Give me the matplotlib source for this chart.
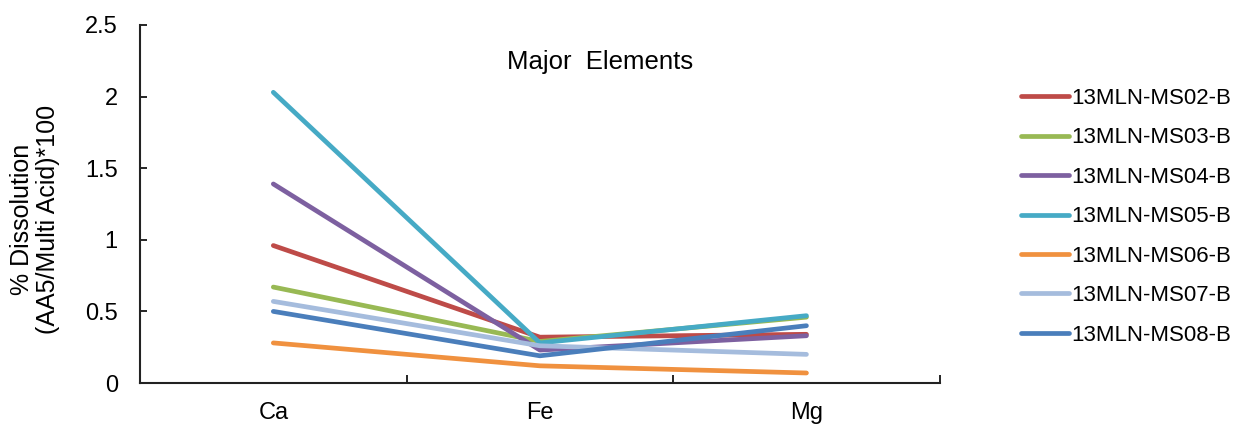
import matplotlib
matplotlib.use("Agg")
import matplotlib.pyplot as plt

plt.rcParams['font.family'] = ['Liberation Sans', 'DejaVu Sans']

elements = ['Ca', 'Fe', 'Mg']
samples = ['13MLN-MS02-B', '13MLN-MS03-B', '13MLN-MS04-B', '13MLN-MS05-B',
           '13MLN-MS06-B', '13MLN-MS07-B', '13MLN-MS08-B']

ms02 = [0.96, 0.32, 0.34]
ms03 = [0.67, 0.29, 0.46]
ms04 = [1.39, 0.23, 0.33]
ms05 = [2.03, 0.28, 0.47]
ms06 = [0.28, 0.12, 0.07]
ms07 = [0.57, 0.26, 0.20]
ms08 = [0.50, 0.19, 0.40]

series = [ms02, ms03, ms04, ms05, ms06, ms07, ms08]
colors = ['#BE4B48', '#98B954', '#7D60A0', '#46AAC5', '#F0913F', '#A5BCDD', '#4A7EBB']

fig = plt.figure(figsize=(12.36, 4.25), dpi=100)
ax = fig.add_axes([0.1133, 0.0988, 0.647, 0.8424])

x = list(range(len(elements)))
for name, vals, c in zip(samples, series, colors):
    ax.plot(x, vals, color=c, lw=3.4, solid_capstyle='round', label=name)

ax.set_xlim(-0.5, 2.5)
ax.set_ylim(0, 2.5)
ax.set_yticks([0, 0.5, 1, 1.5, 2, 2.5])
ax.set_yticklabels(['0', '0.5', '1', '1.5', '2', '2.5'])
# category boundaries get the tick marks, names sit between them
ax.set_xticks([-0.5, 0.5, 1.5, 2.5])
ax.set_xticklabels([])
ax.set_xticks(x, minor=True)
ax.set_xticklabels(elements, minor=True)
ax.tick_params(axis='x', which='minor', length=0, labelsize=17, pad=14)
ax.tick_params(axis='x', which='major', direction='in', length=6, width=1.2)
ax.tick_params(axis='y', direction='in', length=5, width=1.2, labelsize=17, pad=16)

for s in ['top', 'right']:
    ax.spines[s].set_visible(False)
for s in ['left', 'bottom']:
    ax.spines[s].set_linewidth(1.5)
    ax.spines[s].set_color('#222222')

ax.set_ylabel('% Dissolution\n(AA5/Multi Acid)*100', fontsize=18, linespacing=1.1)
ax.yaxis.set_label_coords(-0.1, 0.458)
ax.text(0.575, 0.897, 'Major  Elements', transform=ax.transAxes,
        ha='center', va='center', fontsize=18.5)

fig.legend(loc='upper left', bbox_to_anchor=(0.826, 0.793), frameon=False,
           fontsize=16, handlelength=2.15, handletextpad=0.1, labelspacing=0.83,
           borderpad=0, borderaxespad=0)

fig.savefig('out.png', dpi=100)
